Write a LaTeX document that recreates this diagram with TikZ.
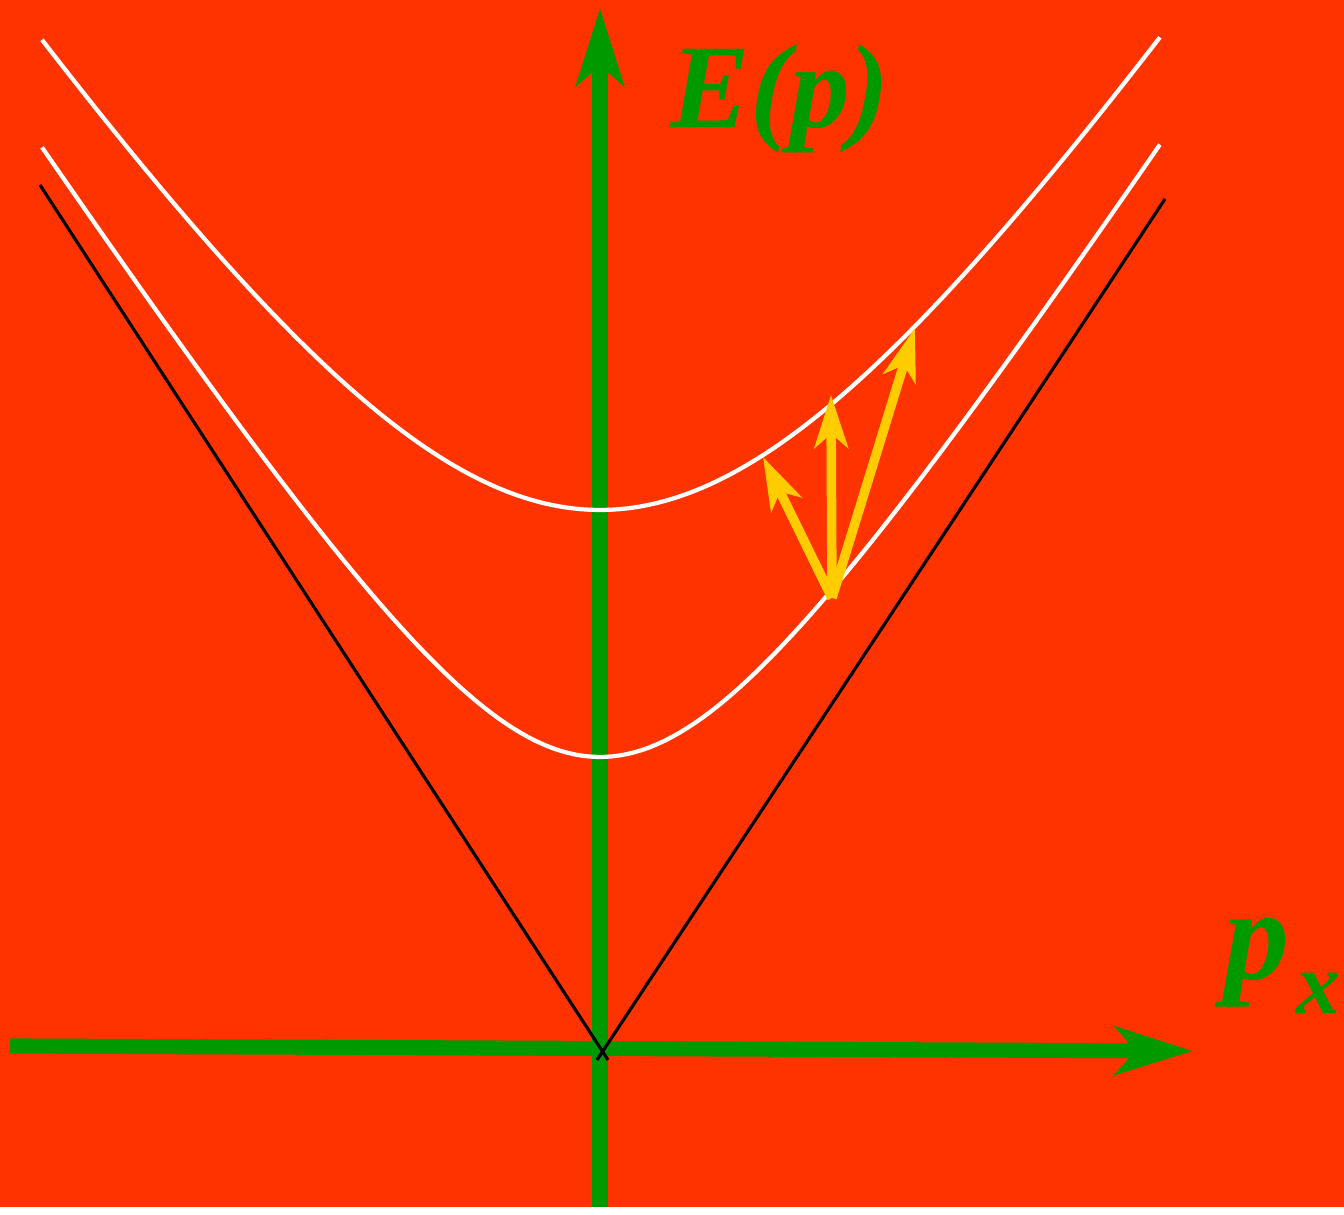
\documentclass[tikz,border=0pt]{standalone}
\usepackage{fontspec}
\setmainfont{Liberation Serif}
\usetikzlibrary{arrows.meta}

\begin{document}
\begin{tikzpicture}[
	axis/.style={line width=4.3pt, color=axisgreen, -{Stealth[length=22pt,width=13.5pt,inset=5.7pt]}},
	cone/.style={line width=0.9pt, black},
	branch/.style={line width=1.2pt, white},
	kick/.style={line width=2.7pt, color=kickyellow, -{Stealth[length=15pt,width=9.5pt,inset=4pt]}},
	lbl/.style={inner sep=0pt, anchor=base west, text=axisgreen}]
\definecolor{bgred}{RGB}{255,51,0}
\definecolor{axisgreen}{RGB}{0,153,0}
\definecolor{kickyellow}{RGB}{255,204,0}

	% background
	\fill[bgred] (-6,-1.57) rectangle (7.44,10.5);

	% axes
	\draw[axis] (0,-1.57) -- (0,10.42);
	\draw[axis] (-5.9,0.04) -- (5.93,-0.01);

	% light cone
	\draw[cone] (-5.60,8.65) -- (0.08,-0.10);
	\draw[cone] (5.65,8.51) -- (-0.03,-0.10);

	% the two branches
	\draw[branch, domain=-5.58:5.6, samples=150] plot (\x, {sqrt(5.4*5.4+(1.53*\x)^2)});
	\draw[branch, domain=-5.58:5.6, samples=150] plot (\x, {sqrt(2.93*2.93+(1.53*\x)^2)});

	% transitions
	\coordinate (k0) at (2.32,4.52);
	\coordinate (k1) at (1.63,5.93);
	\coordinate (k2) at (2.31,6.55);
	\coordinate (k3) at (3.15,7.22);
	\draw[kick] (k0) -- (k1);
	\draw[kick] (k0) -- (k2);
	\draw[kick] (k0) -- (k3);

	% labels
	\node[lbl, font=\fontsize{34}{37}\selectfont\bfseries\itshape] (Elabel) at (0.70,9.22) {E(p)};
	\node[lbl, font=\fontsize{37}{40}\selectfont\bfseries\itshape] (plabel) at (6.24,0.70) {p\kern2pt\raisebox{-9.6pt}{\fontsize{25}{28}\selectfont x}};

\end{tikzpicture}
\end{document}
